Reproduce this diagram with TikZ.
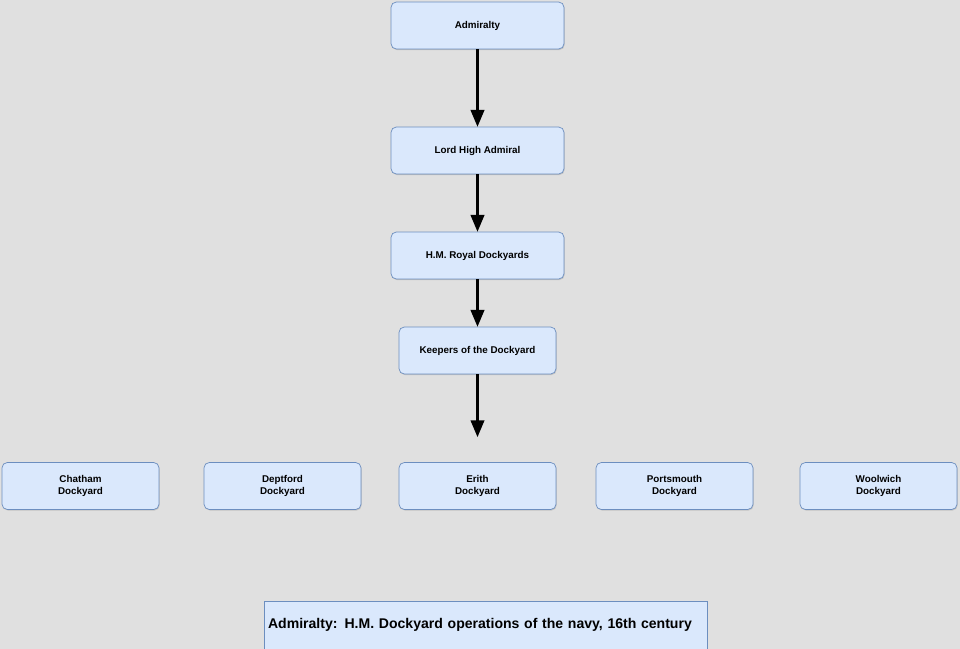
\documentclass[tikz,border=0pt]{standalone}
\usepackage{fontspec}
\setmainfont{Liberation Sans}
\usetikzlibrary{arrows, shadows}
\definecolor{boxfill}{HTML}{DAE8FC}
\definecolor{boxline}{HTML}{6C8EBF}
\definecolor{bgcol}{HTML}{E0E0E0}
\tikzstyle{box} = [rectangle, rounded corners=3pt, draw=boxline, fill=boxfill, text centered, align=center, font=\fontsize{5.6}{6.6}\selectfont\bfseries, minimum width=3.14cm, minimum height=0.94cm, drop shadow={shadow xshift=0.4pt, shadow yshift=-0.6pt, fill=gray!70}]
\tikzstyle{arrow} = [very thick,-triangle 45]

\begin{document}
\begin{tikzpicture}[x=0.02cm, y=-0.02cm]
  \fill[bgcol] (0,0) rectangle (960,649);
  \useasboundingbox (0,0) rectangle (960,649);
  \node (adm) [box, minimum width=3.46cm] at (477.5,25.5) {Admiralty};
  \node (lha) [box, minimum width=3.46cm] at (477.5,150.5) {Lord High Admiral};
  \node (hmrd) [box, minimum width=3.46cm] at (477.5,255.5) {H.M. Royal Dockyards};
  \node (keep) [box] at (477.5,350.5) {Keepers of the Dockyard};
  \coordinate (yards) at (477.5,437);

  \node (chat) [box] at (80.5,486) {Chatham\\Dockyard};
  \node (dept) [box] at (282.5,486) {Deptford\\Dockyard};
  \node (erit) [box] at (477.5,486) {Erith\\Dockyard};
  \node (port) [box] at (674.5,486) {Portsmouth\\Dockyard};
  \node (wool) [box] at (878.5,486) {Woolwich\\Dockyard};

  \node (title) [rectangle, draw=boxline, fill=boxfill, minimum width=8.86cm, minimum height=0.96cm, text width=8.7cm, align=left, inner xsep=1pt, font=\fontsize{8}{9.6}\selectfont\bfseries] at (485.5,625) {Admiralty: H.M. Dockyard operations of the navy, 16th century};

  \draw [arrow] (adm) -- (lha);
  \draw [arrow] (lha) -- (hmrd);
  \draw [arrow] (hmrd) -- (keep);
  \draw [arrow] (keep) -- (yards);
\end{tikzpicture}
\end{document}
